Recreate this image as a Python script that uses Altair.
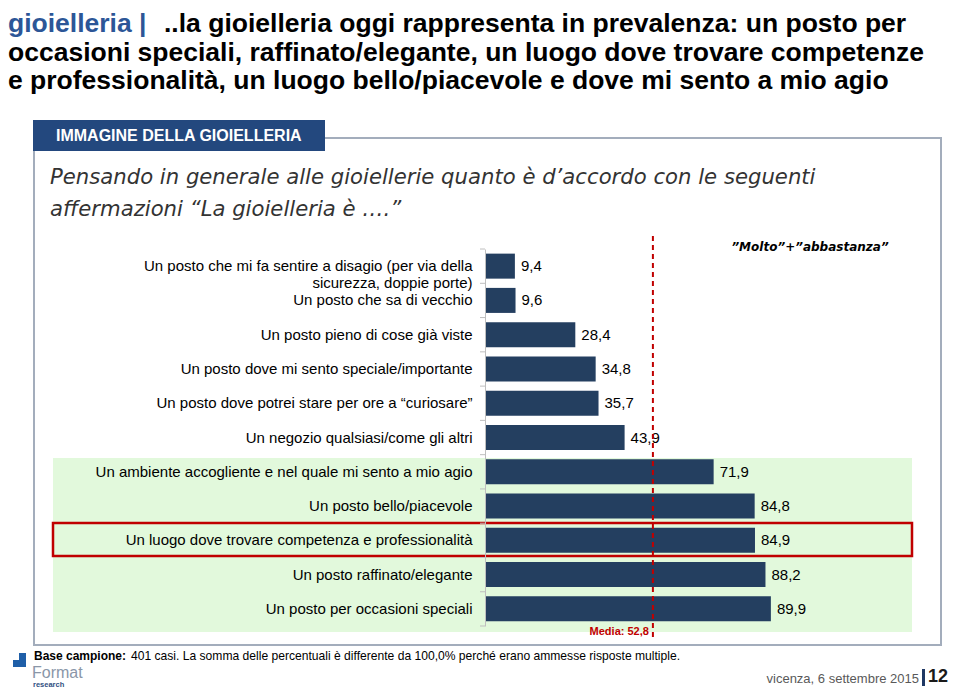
import altair as alt
import pandas as pd

# ---------------- data ----------------
categories = [
    "Un posto che mi fa sentire a disagio (per via della|sicurezza, doppie porte)",
    "Un posto che sa di vecchio",
    "Un posto pieno di cose già viste",
    "Un posto dove mi sento speciale/importante",
    "Un posto dove potrei stare per ore a \u201ccuriosare\u201d",
    "Un negozio qualsiasi/come gli altri",
    "Un ambiente accogliente e nel quale mi sento a mio agio",
    "Un posto bello/piacevole",
    "Un luogo dove trovare competenza e professionalità",
    "Un posto raffinato/elegante",
    "Un posto per occasioni speciali",
]
values = [9.4, 9.6, 28.4, 34.8, 35.7, 43.9, 71.9, 84.8, 84.9, 88.2, 89.9]
media = 52.8

title_blue = "gioielleria |"
title_lines = [
    "..la gioielleria oggi rappresenta in prevalenza: un posto per",
    "occasioni speciali, raffinato/elegante, un luogo dove trovare competenze",
    "e professionalità, un luogo bello/piacevole e dove mi sento a mio agio",
]
tab_text = "IMMAGINE DELLA GIOIELLERIA"
question_lines = [
    "Pensando in generale alle gioiellerie quanto è d\u2019accordo con le seguenti",
    "affermazioni \u201cLa gioielleria è \u2026.\u201d",
]
legend_note = "\u201dMolto\u201d+\u201dabbastanza\u201d"
footer_bold = "Base campione:"
footer_rest = "401 casi. La somma delle percentuali è differente da 100,0% perché erano ammesse risposte multiple."
date_text = "vicenza, 6 settembre 2015"
page_no = "12"

FONT = "Liberation Sans"
ITAL = "DejaVu Sans"

# ---------------- layout helpers (page px -> plot px) ----------------
W, H = 318, 377
OX, OY = 485, 249


def X(p):
    return p - OX


def Y(p):
    return p - OY


one = pd.DataFrame({"d": [0]})


def txt(s, x, y, size, color="#000000", weight="normal", style="normal",
        font=FONT, align="left", baseline="alphabetic"):
    return alt.Chart(one).mark_text(
        text=s, fontSize=size, color=color, fontWeight=weight, fontStyle=style,
        font=font, align=align, baseline=baseline,
    ).encode(x=alt.value(X(x)), y=alt.value(Y(y)))


def box(x1, y1, x2, y2, fill=None, stroke=None, sw=0):
    kw = {}
    if fill is not None:
        kw["fill"] = fill
    else:
        kw["fillOpacity"] = 0
        kw["fill"] = "#ffffff"
    if stroke is not None:
        kw["stroke"] = stroke
        kw["strokeWidth"] = sw
    return alt.Chart(one).mark_rect(**kw).encode(
        x=alt.value(X(x1)), x2=alt.value(X(x2)),
        y=alt.value(Y(y1)), y2=alt.value(Y(y2)),
    )


# ---------------- data layers ----------------
df = pd.DataFrame({
    "cat": categories,
    "val": values,
    "lab": [f"{v:.1f}".replace(".", ",") for v in values],
})

yenc = alt.Y(
    "cat:N", sort=categories,
    scale=alt.Scale(paddingInner=0.27, paddingOuter=0.135),
    axis=alt.Axis(
        title=None, labelExpr="split(datum.label, '|')", labelFont=FONT,
        labelFontSize=15, labelColor="#000000", labelLineHeight=17,
        labelPadding=13, ticks=False, tickSize=0, domainColor="#BFBFBF",
        domainWidth=1, labelLimit=0, zindex=1,
    ),
)
xenc = alt.X("val:Q", scale=alt.Scale(domain=[0, 100]), axis=None)

bars = alt.Chart(df).mark_bar(color="#243F60").encode(x=xenc, y=yenc)
ticks = alt.Chart(df).mark_rule(color="#BFBFBF", strokeWidth=1).encode(
    y=alt.Y("cat:N", sort=categories, bandPosition=0),
    x=alt.value(-5), x2=alt.value(0), yOffset=alt.value(-4.6),
)
bottom_tick = alt.Chart(one).mark_rule(color="#BFBFBF").encode(
    x=alt.value(-5), x2=alt.value(0), y=alt.value(H)
)
labels = alt.Chart(df).mark_text(
    align="left", baseline="middle", dx=6, fontSize=15, font=FONT, color="#000000"
).encode(x=xenc, y=alt.Y("cat:N", sort=categories), text="lab:N")

mdf = pd.DataFrame({"val": [media], "lab": [f"Media: {media:.1f}".replace(".", ",")]})
media_rule = alt.Chart(mdf).mark_rule(
    color="#C00000", strokeDash=[5, 4], strokeWidth=2
).encode(x=alt.X("val:Q"), y=alt.value(Y(236)), y2=alt.value(Y(637)))
media_label = alt.Chart(mdf).mark_text(
    align="right", baseline="alphabetic", dx=-4, fontSize=11, fontWeight="bold",
    color="#C00000", font=FONT,
).encode(x=alt.X("val:Q"), y=alt.value(Y(635)), text="lab:N")

# ---------------- decorations ----------------
layers = [
    box(34, 138, 941, 645, stroke="#A3ADBC", sw=2),
    box(53, 458, 912, 632, fill="#E2F9DC"),
    box(53, 523, 912, 556, stroke="#C00000", sw=2.5),
    box(33, 120, 325, 151, fill="#23487E"),
    txt(tab_text, 56, 141, 16, color="#FFFFFF", weight="bold"),
    txt(title_blue, 8, 32, 26.5, color="#2C5697", weight="bold"),
    txt(title_lines[0], 164, 32, 26.5, weight="bold"),
    txt(title_lines[1], 8, 60.5, 26.5, weight="bold"),
    txt(title_lines[2], 8, 89, 26.5, weight="bold"),
    txt(question_lines[0], 50, 184, 21.2, color="#333333", style="italic", font=ITAL),
    txt(question_lines[1], 50, 216, 21.2, color="#333333", style="italic", font=ITAL),
    txt(legend_note, 810, 251, 12, weight="bold", style="italic", font=ITAL, align="center"),
    # footer
    box(13, 660, 26, 667, fill="#1F5FA8"),
    box(19, 653, 26, 667, fill="#1F5FA8"),
    txt(footer_bold, 34, 660, 12, weight="bold"),
    txt(footer_rest, 131, 660, 12.1),
    txt("Format", 32, 678, 16, color="#8A96A8"),
    txt("research", 33, 686.5, 7.5, color="#2F4F7F", weight="bold"),
    txt(date_text, 919, 683, 13, color="#595959", align="right"),
    box(922, 669, 925, 686, fill="#1F3864"),
    txt(page_no, 928, 682, 18, weight="bold", color="#1A1A1A"),
    bars, ticks, bottom_tick, labels, media_rule, media_label,
]

chart = alt.layer(*layers).properties(
    width=W, height=H,
    autosize=alt.AutoSizeParams(type="none"),
    padding={"left": 477, "top": 241, "right": 944 - 477 - W, "bottom": 679 - 241 - H},
    background="#FFFFFF",
).configure_view(stroke=None)

chart.save("out.html", embed_options={"renderer": "svg", "actions": False})
